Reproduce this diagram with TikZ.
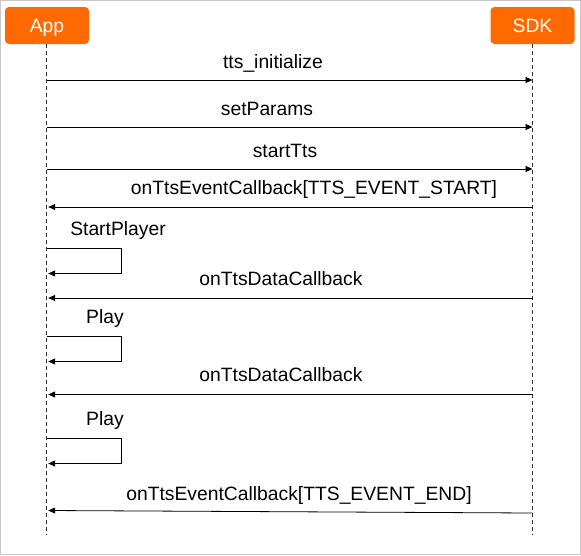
\documentclass[tikz,border=0pt]{standalone}
\usepackage{fontspec}
\setmainfont{Liberation Sans}
\usetikzlibrary{arrows.meta, calc}
\definecolor{aliorange}{HTML}{FF6A00}

\tikzset{
    actor/.style={fill=aliorange, text=white, rounded corners=4pt, minimum width=84pt,
        minimum height=37pt, inner sep=0pt, text height=13.5pt, text depth=0.5pt,
        font=\fontsize{19.3}{21}\selectfont},
    lifeline/.style={line width=0.7pt, dash pattern=on 4pt off 3pt, black!80},
    msg/.style={line width=0.8pt, -{Triangle[length=7pt, width=6pt]}},
    msglabel/.style={anchor=base, inner sep=0pt, font=\fontsize{19.3}{21}\selectfont}
}

\begin{document}
\begin{tikzpicture}[x=1pt, y=-1pt]
    \draw[color=black!22, line width=1pt] (0.5,0.5) rectangle (580.5,554.5);
    \useasboundingbox (0,0) rectangle (581,555);

    \node[actor] (app) at (47,25.5) {App};
    \node[actor] (sdk) at (532.5,25.5) {SDK};
    \coordinate (append) at (46.7,535);
    \coordinate (sdkend) at (532.5,535);
    \draw[lifeline] (app.south -| append) -- (append);
    \draw[lifeline] (sdk.south -| sdkend) -- (sdkend);

    % App -> SDK
    \foreach \y/\lx/\txt [count=\i] in {80/273/tts\_initialize, 127/267/setParams, 169/285/startTts} {
        \draw[msg] (append |- 0,\y) -- (sdkend |- 0,\y);
        \node[msglabel] (call\i) at (\lx,\y-12) {\txt};
    }

    % SDK -> App
    \foreach \y/\lx/\txt [count=\i] in {207/314/{onTtsEventCallback[TTS\_EVENT\_START]},
            298/281/onTtsDataCallback, 394.5/281/onTtsDataCallback} {
        \draw[msg] (sdkend |- 0,\y) -- ($(append |- 0,\y)+(1.5,0)$);
        \node[msglabel] (back\i) at (\lx,\y-13) {\txt};
    }
    \draw[msg] (sdkend |- 0,513) -- ($(append |- 0,510.5)+(1.5,0)$);
    \node[msglabel] (back4) at (299,500) {onTtsEventCallback[TTS\_EVENT\_END]};

    % self calls
    \foreach \y/\lx/\txt [count=\i] in {248.5/118/StartPlayer, 336.5/105/Play, 438.5/105/Play} {
        \draw[msg] (append |- 0,\y) -- (121,\y) -- (121,\y+25) -- ($(append |- 0,\y+25)+(1.5,0)$);
        \node[msglabel] (self\i) at (\lx,\y-13) {\txt};
    }
\end{tikzpicture}
\end{document}
